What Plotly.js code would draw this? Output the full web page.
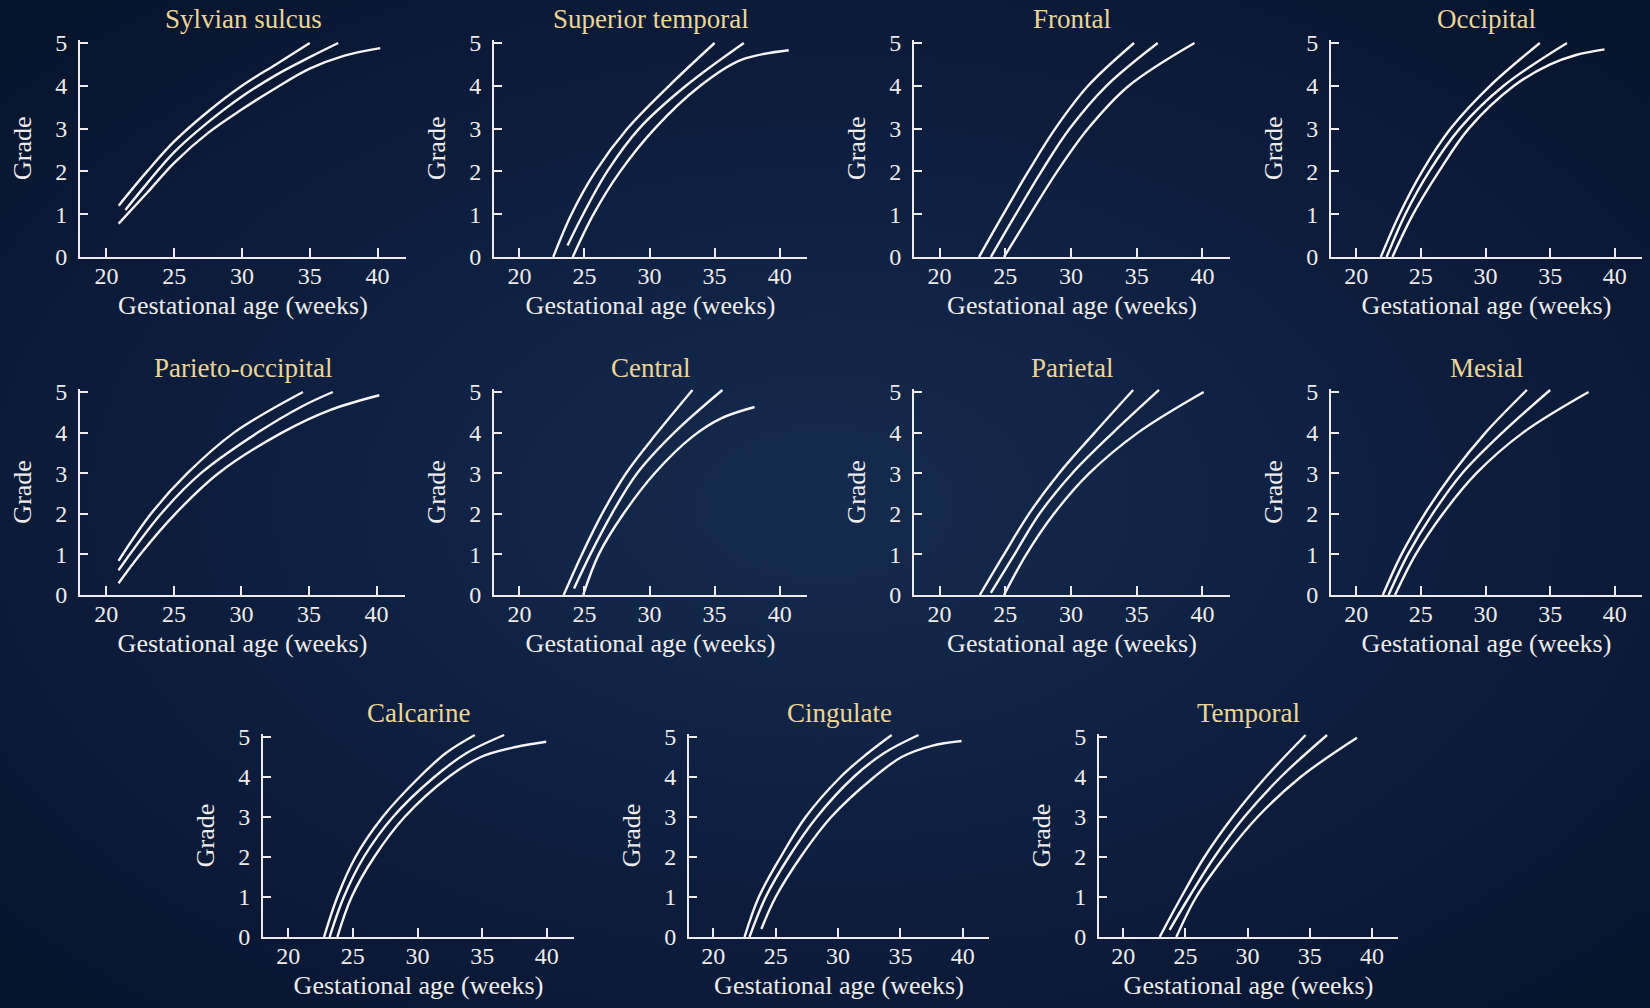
<!DOCTYPE html>
<html>
<head>
<meta charset="utf-8">
<script src="https://cdn.plot.ly/plotly-3.0.1.min.js"></script>
<style>
  html, body { margin: 0; padding: 0; }
  body {
    width: 1650px; height: 1008px; overflow: hidden;
    background: radial-gradient(ellipse at 50% 50%, #152b4d 0%, #0e2040 45%, #091834 80%, #061229 100%);
  }
  #chart { width: 1650px; height: 1008px; }
</style>
</head>
<body>
<div id="chart"></div>
<script>
// ---- Data (gestational age in weeks, grade) ----
const regionNames = ["Sylvian sulcus", "Superior temporal", "Frontal", "Occipital",
  "Parieto-occipital", "Central", "Parietal", "Mesial",
  "Calcarine", "Cingulate", "Temporal"];

const xTickVals = [20, 25, 30, 35, 40];
const yTickVals = [0, 1, 2, 3, 4, 5];
const xAxisLabel = "Gestational age (weeks)";
const yAxisLabel = "Grade";

const sylvianUpper  = [[20.9,1.2],[23,2.0],[25,2.7],[27.5,3.4],[30,4.0],[32.5,4.5],[35,5.0]];
const sylvianMiddle = [[21.4,1.1],[23,1.72],[25,2.45],[27.5,3.15],[30,3.75],[32.5,4.25],[35,4.67],[37.1,5.0]];
const sylvianLower  = [[20.9,0.78],[23,1.5],[25,2.2],[27.5,2.9],[30,3.45],[32.5,3.95],[35,4.4],[37.5,4.7],[40.2,4.88]];

const supTempUpper  = [[22.6,0],[24.0,1],[25.85,2],[28.3,3],[31.5,4],[35.0,5.0]];
const supTempMiddle = [[23.7,0.27],[24.9,1],[26.75,2],[29.2,3],[32.8,4],[37.25,5.0]];
const supTempLower  = [[24.1,0],[25.7,1],[27.75,2],[30.4,3],[33.9,4],[37.0,4.6],[40.7,4.83]];

const frontalUpper  = [[23.0,0],[24.85,1],[26.75,2],[28.8,3],[31.3,4],[34.8,5.0]];
const frontalMiddle = [[23.9,0],[25.8,1],[27.75,2],[29.9,3],[32.7,4],[36.6,5.0]];
const frontalLower  = [[24.9,0],[26.9,1],[28.95,2],[31.3,3],[34.4,4],[39.4,5.0]];

const occipitalUpper  = [[21.9,0],[23.35,1],[25.1,2],[27.3,3],[30.35,4],[34.2,5.0]];
const occipitalMiddle = [[22.35,0],[23.8,1],[25.65,2],[28.0,3],[31.4,4],[36.3,5.0]];
const occipitalLower  = [[22.8,0],[24.4,1],[26.4,2],[28.7,3],[32.2,4],[35,4.5],[37,4.72],[39.2,4.85]];

const parOccUpper  = [[20.9,0.84],[23.3,2],[26.0,3],[29.45,4],[34.55,5.0]];
const parOccMiddle = [[20.9,0.61],[24.05,2],[27.0,3],[31.2,4],[34.5,4.65],[36.76,5.0]];
const parOccLower  = [[20.9,0.29],[22.5,1],[25.1,2],[28.3,3],[33.0,4],[36.5,4.55],[40.2,4.92]];

const centralUpper  = [[23.4,0],[24.8,1],[26.35,2],[28.2,3],[30.6,4],[33.3,5.05]];
const centralMiddle = [[24.2,0.16],[25.45,1],[27.1,2],[29.05,3],[31.9,4],[35.6,5.05]];
const centralLower  = [[24.9,0],[26.1,1],[28.0,2],[30.4,3],[33.3,3.9],[35.5,4.35],[38.07,4.63]];

const parietalUpper  = [[23.06,0],[24.9,1],[26.8,2],[29.1,3],[31.8,4],[34.73,5.05]];
const parietalMiddle = [[23.9,0.05],[25.7,1],[27.6,2],[30.1,3],[33.2,4],[36.7,5.05]];
const parietalLower  = [[24.9,0],[26.6,1],[28.7,2],[31.4,3],[35.1,4],[40.1,5.0]];

const mesialUpper  = [[22.06,0],[23.5,1],[25.3,2],[27.45,3],[30.0,4],[33.2,5.05]];
const mesialMiddle = [[22.5,0],[24.0,1],[25.9,2],[28.2,3],[31.3,4],[35.0,5.05]];
const mesialLower  = [[23.0,0],[24.6,1],[26.7,2],[29.3,3],[32.9,4],[37.97,5.0]];

const calcarineUpper  = [[22.77,0],[23.8,1],[25.2,2],[27.3,3],[30.15,4],[32.2,4.6],[34.43,5.05]];
const calcarineMiddle = [[23.2,0],[24.3,1],[25.85,2],[28.1,3],[31.3,4],[33.8,4.6],[36.7,5.05]];
const calcarineLower  = [[23.8,0],[24.9,1],[26.65,2],[29.0,3],[32.4,4],[34.9,4.5],[37.6,4.75],[39.95,4.88]];

const cingulateUpper  = [[22.5,0],[23.65,1],[25.4,2],[27.4,3],[30.2,4],[32.2,4.55],[34.3,5.05]];
const cingulateMiddle = [[22.9,0],[24.2,1],[26.05,2],[28.3,3],[31.25,4],[33.7,4.6],[36.45,5.05]];
const cingulateLower  = [[23.85,0.2],[25.0,1],[27.0,2],[29.45,3],[32.9,4],[35.1,4.5],[37.5,4.78],[39.9,4.9]];

const temporalUpper  = [[22.93,0],[24.67,1],[26.53,2],[28.8,3],[31.47,4],[34.67,5.05]];
const temporalMiddle = [[23.73,0.18],[25.3,1],[27.33,2],[29.73,3],[32.67,4],[36.4,5.05]];
const temporalLower  = [[24.27,0],[25.87,1],[28.13,2],[30.8,3],[34.27,4],[38.8,4.98]];

const regionCurves = [
  [sylvianUpper, sylvianMiddle, sylvianLower],
  [supTempUpper, supTempMiddle, supTempLower],
  [frontalUpper, frontalMiddle, frontalLower],
  [occipitalUpper, occipitalMiddle, occipitalLower],
  [parOccUpper, parOccMiddle, parOccLower],
  [centralUpper, centralMiddle, centralLower],
  [parietalUpper, parietalMiddle, parietalLower],
  [mesialUpper, mesialMiddle, mesialLower],
  [calcarineUpper, calcarineMiddle, calcarineLower],
  [cingulateUpper, cingulateMiddle, cingulateLower],
  [temporalUpper, temporalMiddle, temporalLower]
];

// ---- Layout (pixel boxes of each panel: left, right, row) ----
const W = 1650, H = 1008;
const rows = [ {y0: 257, y5: 43}, {y0: 595, y5: 392}, {y0: 937, y5: 737} ];
const panelBoxes = [
  [80, 406, 0], [494, 807, 0], [914, 1230, 0], [1331, 1642, 0],
  [80, 405, 1], [494, 807, 1], [914, 1230, 1], [1331, 1642, 1],
  [263, 574, 2], [689, 989, 2], [1099, 1398, 2]
];
const yMax = 5.08;
const xRange = [18.05, 42.1];

const serif = "Liberation Serif, 'DejaVu Serif', serif";
const axisColor = "#ececec";
const titleColor = "#ead597";

const traces = [];
const layout = {
  width: W, height: H,
  margin: {l: 0, r: 0, t: 0, b: 0},
  paper_bgcolor: "rgba(0,0,0,0)",
  plot_bgcolor: "rgba(0,0,0,0)",
  showlegend: false,
  font: {family: serif, color: axisColor},
  annotations: []
};

panelBoxes.forEach((box, i) => {
  const n = i + 1;
  const xa = n === 1 ? "xaxis" : "xaxis" + n;
  const ya = n === 1 ? "yaxis" : "yaxis" + n;
  const xid = n === 1 ? "x" : "x" + n;
  const yid = n === 1 ? "y" : "y" + n;
  const r = rows[box[2]];
  const unit = (r.y0 - r.y5) / 5;
  const topPx = r.y5 - (yMax - 5) * unit;

  layout[xa] = {
    domain: [box[0] / W, box[1] / W],
    range: xRange, anchor: yid,
    showgrid: false, zeroline: false,
    showline: true, linecolor: axisColor, linewidth: 2,
    ticks: "inside", ticklen: 9, tickwidth: 2, tickcolor: axisColor,
    tickvals: xTickVals, ticktext: xTickVals.map(String),
    tickfont: {family: serif, size: 24, color: axisColor},
    ticklabelstandoff: -4,
    title: {text: xAxisLabel, font: {family: serif, size: 26, color: axisColor}, standoff: 8},
    fixedrange: true
  };
  layout[ya] = {
    domain: [1 - r.y0 / H, 1 - topPx / H],
    range: [0, yMax], anchor: xid,
    showgrid: false, zeroline: false,
    showline: true, linecolor: axisColor, linewidth: 2,
    ticks: "inside", ticklen: 8, tickwidth: 2, tickcolor: axisColor,
    tickvals: yTickVals, ticktext: yTickVals.map(String),
    tickfont: {family: serif, size: 24, color: axisColor},
    ticklabelstandoff: 6,
    title: {text: yAxisLabel, font: {family: serif, size: 26, color: axisColor}, standoff: 16},
    fixedrange: true
  };

  regionCurves[i].forEach(curve => {
    traces.push({
      type: "scatter", mode: "lines",
      x: curve.map(p => p[0]), y: curve.map(p => p[1]),
      xaxis: xid, yaxis: yid,
      line: {color: "#f4f4f4", width: 2.4, shape: "spline", smoothing: 1},
      hoverinfo: "skip"
    });
  });

  layout.annotations.push({
    text: regionNames[i],
    xref: xid + " domain", yref: yid + " domain",
    x: 0.5, y: 1, xanchor: "center", yanchor: "bottom",
    yshift: 4, showarrow: false,
    font: {family: serif, size: 27, color: titleColor}
  });
});

Plotly.newPlot("chart", traces, layout, {displayModeBar: false, staticPlot: true});
</script>
</body>
</html>
